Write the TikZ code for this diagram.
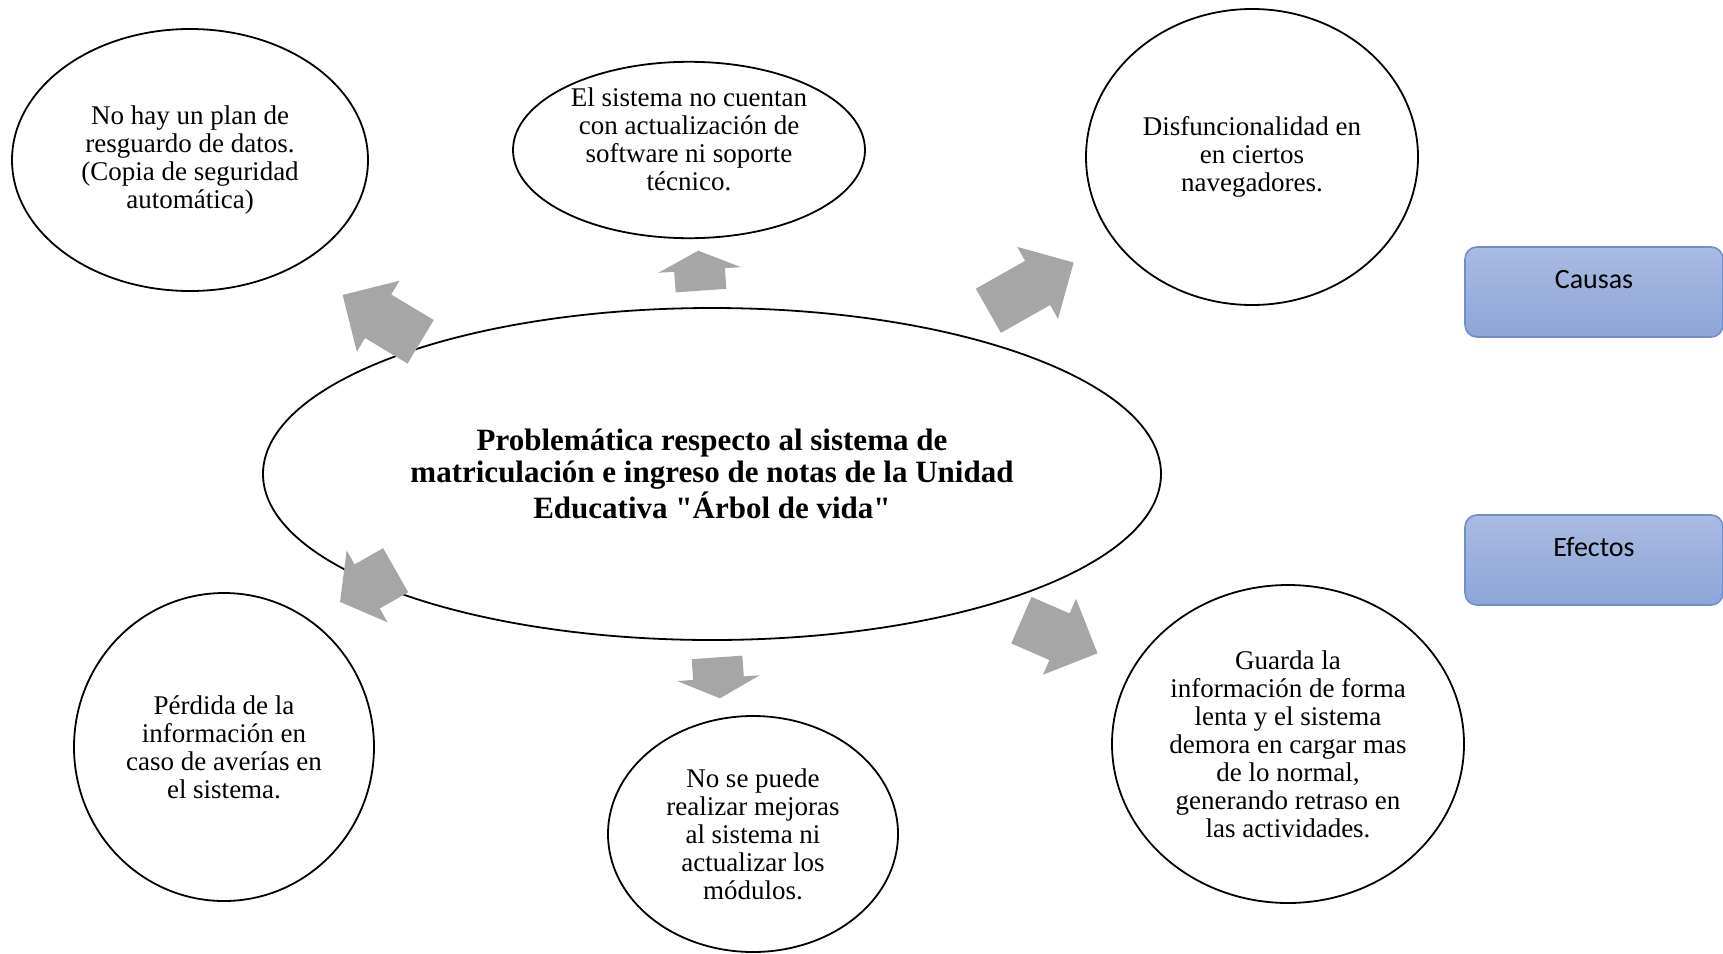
\documentclass[tikz,border=0pt]{standalone}
\usepackage{fontspec}
\setmainfont{Liberation Serif}
\newfontfamily\legendfont{Carlito}
\usetikzlibrary{shapes.geometric,shapes.arrows}
\definecolor{arrowgray}{HTML}{A6A6A6}
\definecolor{boxtop}{HTML}{AABBE2}
\definecolor{boxbottom}{HTML}{8DA5D8}
\definecolor{boxline}{HTML}{6F8ED0}
\tikzset{
    bubble/.style={ellipse, draw=black, line width=0.9pt, inner sep=0pt, align=center,
        font=\fontsize{13.5}{14}\selectfont},
    bigarrow/.style={single arrow, fill=arrowgray, inner xsep=0pt, inner ysep=12.5pt,
        minimum width=41pt, single arrow head extend=8pt, anchor=tail},
    legendbox/.style={rectangle, rounded corners=6pt, draw=boxline, line width=0.8pt,
        top color=boxtop, bottom color=boxbottom, minimum width=129pt, minimum height=45pt,
        font=\legendfont\fontsize{14}{16}\selectfont, text height=8pt, text depth=12pt}
}

\begin{document}
\begin{tikzpicture}[x=0.5pt,y=-0.5pt]
    \useasboundingbox (0,0) rectangle (1723,953);

    \node[bubble, minimum width=449pt, minimum height=166pt,
        font=\fontsize{15.5}{16}\selectfont\bfseries] (prob) at (712,474)
        {Problemática respecto al sistema de\\ matriculación e ingreso de notas de la Unidad\\ Educativa \textquotedbl Árbol de vida\textquotedbl};

    % causas
    \node[bubble, minimum width=178pt, minimum height=131pt] (causa1) at (190,160)
        {No hay un plan de\\ resguardo de datos.\\ (Copia de seguridad\\ automática)};
    \node[bubble, minimum width=176pt, minimum height=82pt, text depth=11pt] (causa2) at (689,150)
        {El sistema no cuentan\\ con actualización de\\ software ni soporte\\ técnico.};
    \node[bubble, minimum width=166pt, minimum height=148pt] (causa3) at (1252,157)
        {Disfuncionalidad en\\ en ciertos\\ navegadores.};

    % efectos
    \node[bubble, minimum width=150pt, minimum height=154pt] (efecto1) at (224,747)
        {Pérdida de la\\ información en\\ caso de averías en\\ el sistema.};
    \node[bubble, minimum width=145pt, minimum height=118pt] (efecto2) at (753,834)
        {No se puede\\ realizar mejoras\\ al sistema ni\\ actualizar los\\ módulos.};
    \node[bubble, minimum width=176pt, minimum height=159pt] (efecto3) at (1288,744)
        {Guarda la\\ información de forma\\ lenta y el sistema\\ demora en cargar mas\\ de lo normal,\\ generando retraso en\\ las actividades.};

    \node[bigarrow, rotate=149, minimum height=45.5pt, single arrow tip angle=90] (a1) at (421,342) {};
    \node[bigarrow, rotate=94, minimum height=20pt, single arrow tip angle=130] (a2) at (701,291) {};
    \node[bigarrow, rotate=29.5, minimum height=49pt, single arrow tip angle=90] (a3) at (988,311) {};
    \node[bigarrow, rotate=209.7, minimum height=32pt, single arrow tip angle=106] (a4) at (396,570) {};
    \node[bigarrow, rotate=-86, minimum height=20.5pt, single arrow tip angle=128] (a5) at (717,657) {};
    \node[bigarrow, rotate=-23.5, minimum height=41.5pt, single arrow tip angle=90] (a6) at (1021,620) {};

    \node[legendbox] (causas) at (1594,292) {Causas};
    \node[legendbox] (efectos) at (1594,560) {Efectos};

\end{tikzpicture}
\end{document}
